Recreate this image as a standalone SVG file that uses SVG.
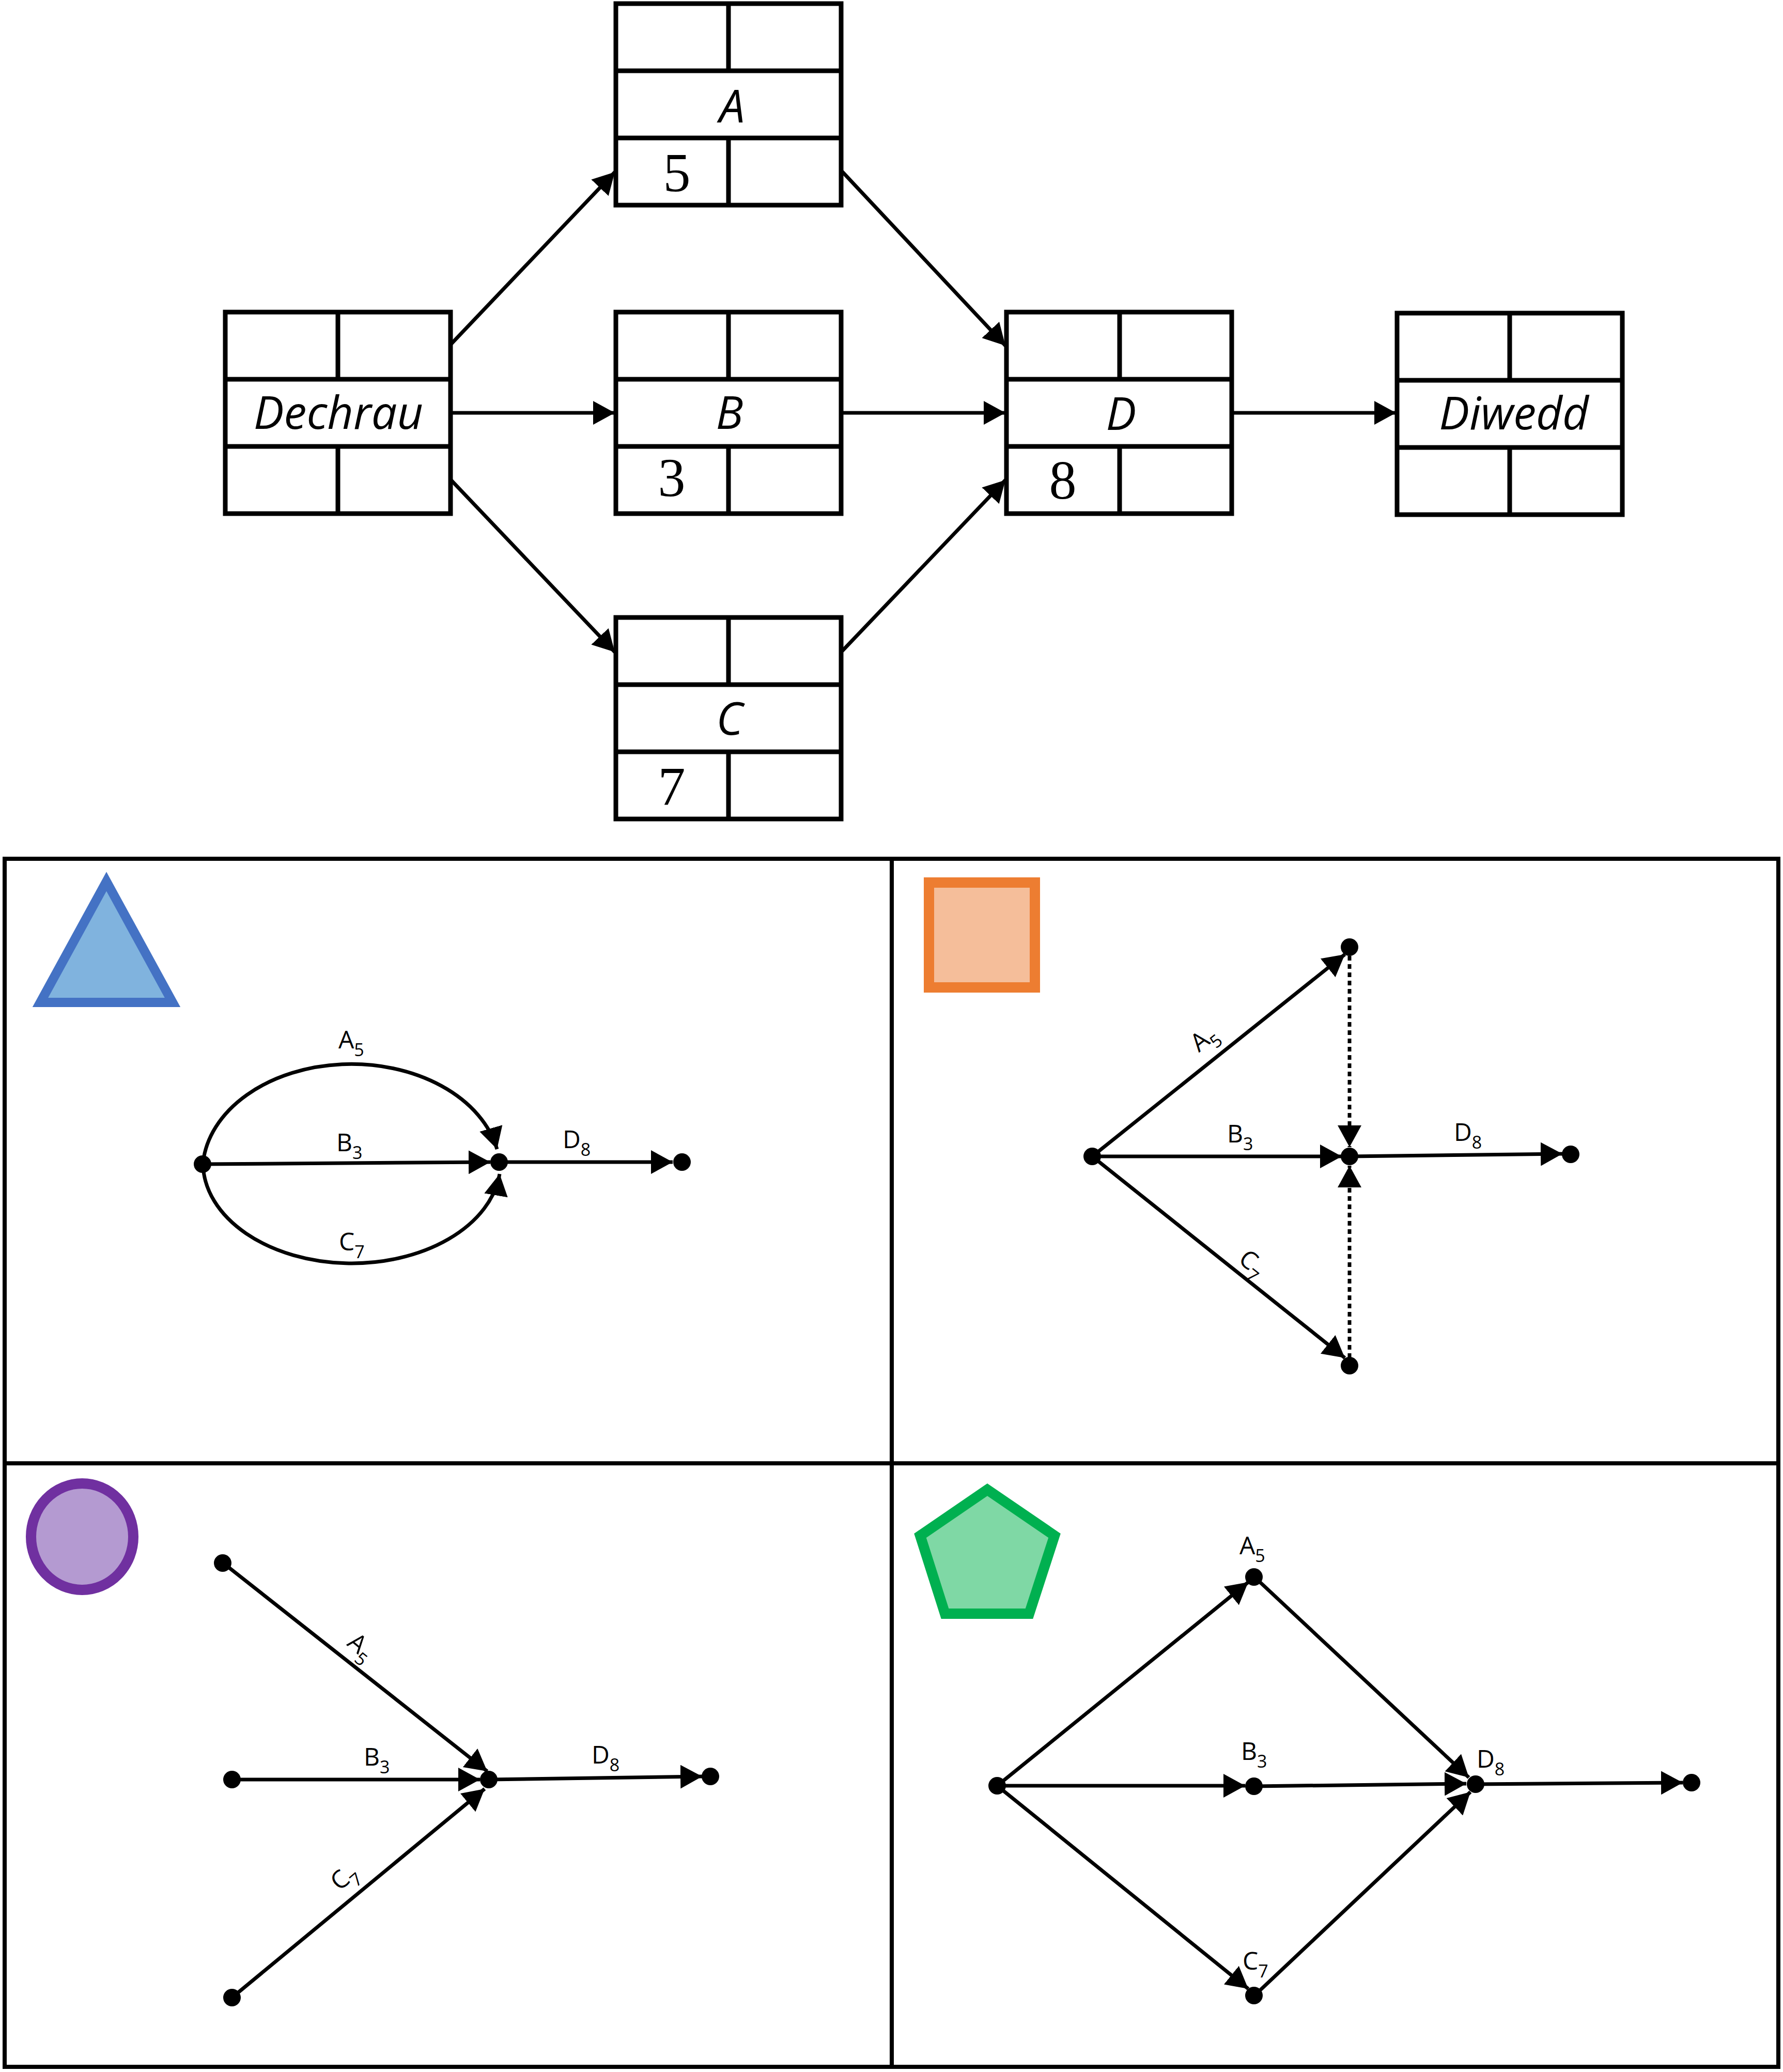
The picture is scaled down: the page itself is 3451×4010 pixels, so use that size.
<svg xmlns="http://www.w3.org/2000/svg" width="3451" height="4010" viewBox="0 0 3451 4010">
<style>
.box{fill:#fff;stroke:#000;stroke-width:9}
.ln{stroke:#000;stroke-width:9}
.nm{font-family:"Open Sans",Lato,sans-serif;font-style:italic;font-size:88px;text-anchor:middle;fill:#000}
.num{font-family:"Liberation Serif",serif;font-size:106px;text-anchor:middle;fill:#000}
.edge{stroke:#000;stroke-width:7;fill:none;marker-end:url(#ah)}
.dash{stroke:#000;stroke-width:7;fill:none;stroke-dasharray:9 7;marker-end:url(#ah)}
.dot{fill:#000}
.sl{font-family:"Open Sans",Lato,sans-serif;font-size:48px;fill:#000}
.sub{font-size:34px}
.grid{fill:none;stroke:#000;stroke-width:8}
</style>
<defs>
<marker id="ah" markerUnits="userSpaceOnUse" markerWidth="44" markerHeight="46" refX="42" refY="23" orient="auto">
<path d="M0,0 L42,23 L0,46 z" fill="#000"/>
</marker>
</defs>
<rect width="3451" height="4010" fill="#fff"/>

<!-- top precedence network -->
<g id="connectors-top">
<path class="edge" d="M873,666 L1190,333"/>
<path class="edge" d="M873,799 L1190,799"/>
<path class="edge" d="M873,929 L1190,1262"/>
<path class="edge" d="M1630,332 L1946,669"/>
<path class="edge" d="M1630,799 L1946,799"/>
<path class="edge" d="M1630,1260 L1946,929"/>
<path class="edge" d="M2386,799 L2702,799"/>
</g>

<g id="node-dechrau">
<rect class="box" x="436" y="604" width="436" height="390"/>
<line class="ln" x1="436" y1="734" x2="872" y2="734"/>
<line class="ln" x1="436" y1="864" x2="872" y2="864"/>
<line class="ln" x1="654" y1="604" x2="654" y2="734"/>
<line class="ln" x1="654" y1="864" x2="654" y2="994"/>
<text class="nm" x="655" y="830">Dechrau</text>
</g>
<g id="node-a">
<rect class="box" x="1192" y="7" width="436" height="390"/>
<line class="ln" x1="1192" y1="137" x2="1628" y2="137"/>
<line class="ln" x1="1192" y1="267" x2="1628" y2="267"/>
<line class="ln" x1="1410" y1="7" x2="1410" y2="137"/>
<line class="ln" x1="1410" y1="267" x2="1410" y2="397"/>
<text class="nm" x="1417" y="237">A</text>
<text class="num" x="1310" y="370">5</text>
</g>
<g id="node-b">
<rect class="box" x="1192" y="604" width="436" height="390"/>
<line class="ln" x1="1192" y1="734" x2="1628" y2="734"/>
<line class="ln" x1="1192" y1="864" x2="1628" y2="864"/>
<line class="ln" x1="1410" y1="604" x2="1410" y2="734"/>
<line class="ln" x1="1410" y1="864" x2="1410" y2="994"/>
<text class="nm" x="1412" y="830">B</text>
<text class="num" x="1300" y="960">3</text>
</g>
<g id="node-c">
<rect class="box" x="1192" y="1195" width="436" height="390"/>
<line class="ln" x1="1192" y1="1325" x2="1628" y2="1325"/>
<line class="ln" x1="1192" y1="1455" x2="1628" y2="1455"/>
<line class="ln" x1="1410" y1="1195" x2="1410" y2="1325"/>
<line class="ln" x1="1410" y1="1455" x2="1410" y2="1585"/>
<text class="nm" x="1412" y="1422">C</text>
<text class="num" x="1300" y="1558">7</text>
</g>
<g id="node-d">
<rect class="box" x="1948" y="604" width="436" height="390"/>
<line class="ln" x1="1948" y1="734" x2="2384" y2="734"/>
<line class="ln" x1="1948" y1="864" x2="2384" y2="864"/>
<line class="ln" x1="2167" y1="604" x2="2167" y2="734"/>
<line class="ln" x1="2167" y1="864" x2="2167" y2="994"/>
<text class="nm" x="2170" y="832">D</text>
<text class="num" x="2057" y="965">8</text>
</g>
<g id="node-diwedd">
<rect class="box" x="2704" y="606" width="436" height="390"/>
<line class="ln" x1="2704" y1="736" x2="3140" y2="736"/>
<line class="ln" x1="2704" y1="866" x2="3140" y2="866"/>
<line class="ln" x1="2922" y1="606" x2="2922" y2="736"/>
<line class="ln" x1="2922" y1="866" x2="2922" y2="996"/>
<text class="nm" x="2930" y="831">Diwedd</text>
</g>

<!-- grid -->
<g id="grid">
<rect class="grid" x="9" y="1662" width="3433" height="2338"/>
<line class="grid" x1="1726" y1="1662" x2="1726" y2="4000"/>
<line class="grid" x1="9" y1="2832" x2="3442" y2="2832"/>
</g>

<!-- quadrant symbols -->
<g id="sym-triangle"><polygon points="206,1706 78,1940 334,1940" fill="#80B3DE" stroke="#4472C4" stroke-width="18"/></g>
<g id="sym-square"><rect x="1798" y="1708" width="205" height="203" fill="#F5BE9A" stroke="#ED7D31" stroke-width="20"/></g>
<g id="sym-circle"><ellipse cx="159" cy="2974" rx="99" ry="103" fill="#B49AD1" stroke="#7030A0" stroke-width="20"/></g>
<g id="sym-pentagon"><polygon points="1911,2883 1781,2972 1829,3123 1992,3123 2041,2972" fill="#7FD8A5" stroke="#00B050" stroke-width="20"/></g>

<!-- Q1 -->
<g id="connectors-q1">
<path class="edge" d="M393,2250 A288,207 0 0,1 962,2224"/>
<path class="edge" d="M393,2256 A288,195 0 0,0 967,2272"/>
<path class="edge" d="M393,2253 L949,2249"/>
<path class="edge" d="M966,2249 L1302,2249"/>
</g>
<g id="nodes-q1">
<circle class="dot" cx="392" cy="2253" r="17"/>
<circle class="dot" cx="966" cy="2249" r="17"/>
<circle class="dot" cx="1320" cy="2249" r="17"/>
</g>
<g id="labels-q1">
<text class="sl" x="655" y="2029">A<tspan class="sub" dy="15">5</tspan></text>
<text class="sl" x="651" y="2228">B<tspan class="sub" dy="15">3</tspan></text>
<text class="sl" x="656" y="2420">C<tspan class="sub" dy="15">7</tspan></text>
<text class="sl" x="1089" y="2222">D<tspan class="sub" dy="15">8</tspan></text>
</g>

<!-- Q2 -->
<g id="connectors-q2">
<path class="edge" d="M2114,2238 L2603,1847"/>
<path class="edge" d="M2114,2238 L2597,2238"/>
<path class="edge" d="M2114,2238 L2603,2628"/>
<path class="edge" d="M2612,2238 L3024,2233"/>
<path class="dash" d="M2612,1850 L2612,2220"/>
<path class="dash" d="M2612,2628 L2612,2256"/>
</g>
<g id="nodes-q2">
<circle class="dot" cx="2114" cy="2238" r="17"/>
<circle class="dot" cx="2612" cy="1833" r="17"/>
<circle class="dot" cx="2612" cy="2238" r="17"/>
<circle class="dot" cx="2612" cy="2643" r="17"/>
<circle class="dot" cx="3040" cy="2234" r="17"/>
</g>
<g id="labels-q2">
<text class="sl" text-anchor="middle" transform="translate(2340,2022) rotate(-38.6)">A<tspan class="sub" dy="15">5</tspan></text>
<text class="sl" x="2375" y="2211">B<tspan class="sub" dy="15">3</tspan></text>
<text class="sl" text-anchor="middle" transform="translate(2414,2457) rotate(38.6)">C<tspan class="sub" dy="15">7</tspan></text>
<text class="sl" x="2814" y="2208">D<tspan class="sub" dy="15">8</tspan></text>
</g>

<!-- Q3 -->
<g id="connectors-q3">
<path class="edge" d="M432,3025 L943,3428"/>
<path class="edge" d="M449,3444 L929,3444"/>
<path class="edge" d="M449,3866 L938,3462"/>
<path class="edge" d="M946,3444 L1359,3438"/>
</g>
<g id="nodes-q3">
<circle class="dot" cx="431" cy="3025" r="17"/>
<circle class="dot" cx="449" cy="3444" r="17"/>
<circle class="dot" cx="449" cy="3866" r="17"/>
<circle class="dot" cx="946" cy="3444" r="17"/>
<circle class="dot" cx="1375" cy="3438" r="17"/>
</g>
<g id="labels-q3">
<text class="sl" text-anchor="middle" transform="translate(689,3199) rotate(39.2)">A<tspan class="sub" dy="15">5</tspan></text>
<text class="sl" x="704" y="3417">B<tspan class="sub" dy="15">3</tspan></text>
<text class="sl" text-anchor="middle" transform="translate(676,3645) rotate(-40.3)">C<tspan class="sub" dy="15">7</tspan></text>
<text class="sl" x="1145" y="3413">D<tspan class="sub" dy="15">8</tspan></text>
</g>

<!-- Q4 -->
<g id="connectors-q4">
<path class="edge" d="M1930,3456 L2416,3062"/>
<path class="edge" d="M1930,3456 L2410,3456"/>
<path class="edge" d="M1930,3456 L2416,3849"/>
<path class="edge" d="M2428,3052 L2843,3440"/>
<path class="edge" d="M2428,3457 L2838,3452"/>
<path class="edge" d="M2428,3862 L2846,3468"/>
<path class="edge" d="M2855,3453 L3257,3450"/>
</g>
<g id="nodes-q4">
<circle class="dot" cx="1930" cy="3456" r="17"/>
<circle class="dot" cx="2427" cy="3052" r="17"/>
<circle class="dot" cx="2427" cy="3457" r="17"/>
<circle class="dot" cx="2427" cy="3862" r="17"/>
<circle class="dot" cx="2856" cy="3453" r="17"/>
<circle class="dot" cx="3274" cy="3450" r="17"/>
</g>
<g id="labels-q4">
<text class="sl" x="2399" y="3008">A<tspan class="sub" dy="15">5</tspan></text>
<text class="sl" x="2402" y="3406">B<tspan class="sub" dy="15">3</tspan></text>
<text class="sl" x="2405" y="3812">C<tspan class="sub" dy="15">7</tspan></text>
<text class="sl" x="2858" y="3421">D<tspan class="sub" dy="15">8</tspan></text>
</g>
</svg>
